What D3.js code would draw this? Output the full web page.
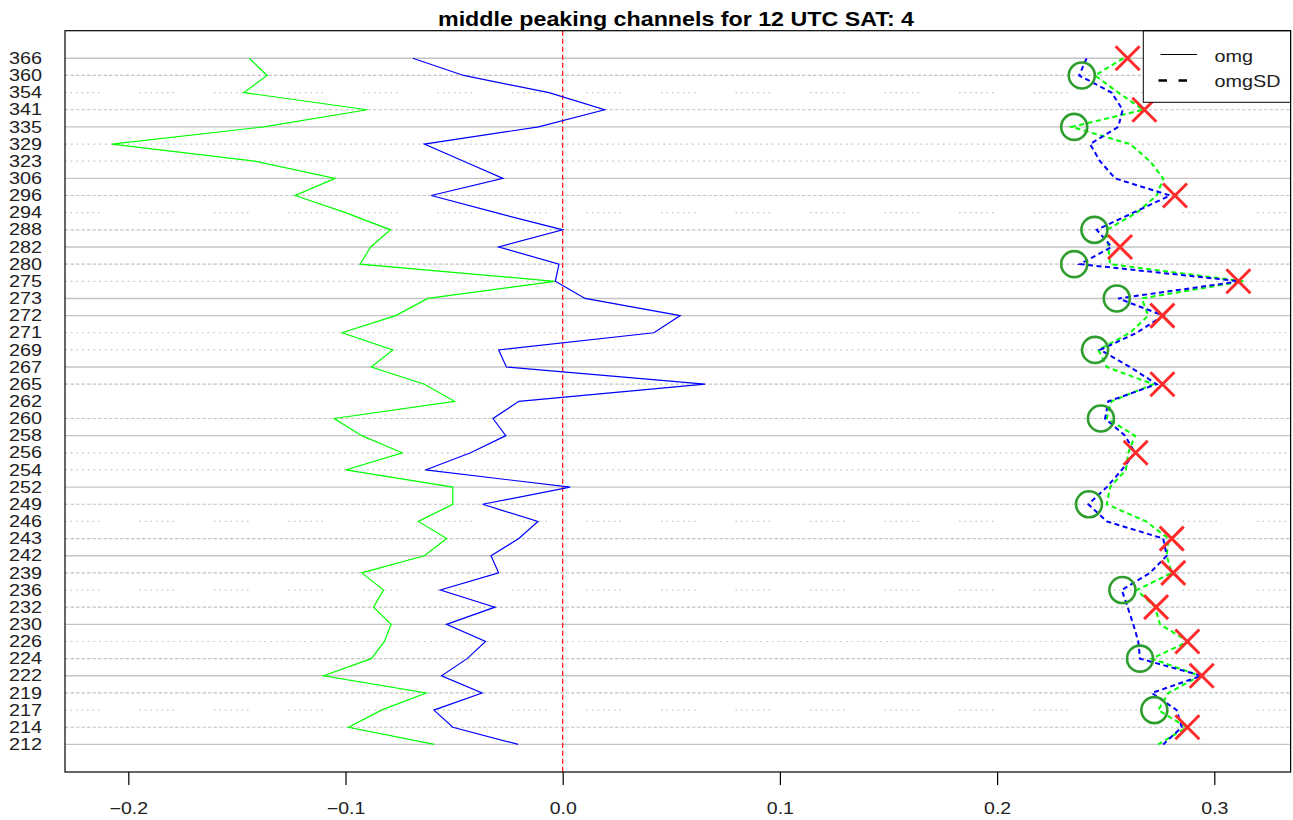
<!DOCTYPE html>
<html>
<head>
<meta charset="utf-8">
<script src="https://cdn.jsdelivr.net/npm/d3@7"></script>
<style>
  html, body { margin: 0; padding: 0; background: #fff; }
  svg { display: block; font-family: "Liberation Sans", Arial, Helvetica, sans-serif; }
</style>
</head>
<body>
<svg id="chart" width="1293" height="820"></svg>
<script>
// ---------------- data (top row first) ----------------
const channels = [366,360,354,341,335,329,323,306,296,294,288,282,280,275,273,272,271,269,267,265,262,
                  260,258,256,254,252,249,246,243,242,239,236,232,230,226,224,222,219,217,214,212];

const omgGreen = [-0.1443,-0.1361,-0.1468,-0.0900,-0.1377,-0.2076,-0.1418,-0.1048,-0.1232,-0.1000,
                  -0.0793,-0.0884,-0.0933,-0.0037,-0.0621,-0.0769,-0.1016,-0.0782,-0.0881,-0.0637,
                  -0.0498,-0.1052,-0.0925,-0.0739,-0.0999,-0.0506,-0.0506,-0.0665,-0.0534,-0.0637,
                  -0.0925,-0.0825,-0.0871,-0.0790,-0.0821,-0.0881,-0.1101,-0.0629,-0.0835,-0.0986,-0.0591];

const omgBlue = [-0.0690,-0.0456,-0.0063,0.0193,-0.0111,-0.0637,-0.0456,-0.0275,-0.0605,-0.0308,
                 0.0000,-0.0295,-0.0017,-0.0034,0.0103,0.0541,0.0420,-0.0295,-0.0259,0.0655,
                 -0.0202,-0.0321,-0.0262,-0.0424,-0.0632,0.0034,-0.0369,-0.0114,-0.0202,-0.0330,
                 -0.0295,-0.0563,-0.0312,-0.0535,-0.0355,-0.0440,-0.0558,-0.0371,-0.0593,-0.0506,-0.0205];

const sdGreen = [0.2581,0.2451,0.2558,0.2673,0.2343,0.2612,0.2704,0.2765,0.2735,0.2643,
                 0.2505,0.2512,0.2520,0.3134,0.2666,0.2696,0.2612,0.2466,0.2505,0.2719,
                 0.2527,0.2505,0.2635,0.2604,0.2593,0.2520,0.2505,0.2686,0.2789,0.2781,
                 0.2804,0.2643,0.2727,0.2750,0.2880,0.2712,0.2934,0.2789,0.2742,0.2873,0.2742];

const sdBlue = [0.2412,0.2378,0.2527,0.2578,0.2558,0.2428,0.2474,0.2543,0.2796,0.2627,
                0.2459,0.2527,0.2382,0.3118,0.2558,0.2765,0.2643,0.2474,0.2612,0.2735,
                0.2512,0.2497,0.2589,0.2635,0.2574,0.2505,0.2420,0.2505,0.2765,0.2781,
                0.2704,0.2574,0.2601,0.2627,0.2650,0.2658,0.2942,0.2712,0.2827,0.2850,0.2765];

const circleChannels = [360,335,288,280,273,269,260,249,236,224,217];
const circleValues   = [0.2390,0.2355,0.2448,0.2355,0.2551,0.2451,0.2478,0.2423,0.2577,0.2658,0.2724];

const crossChannels = [366,341,296,282,275,272,265,256,243,239,232,226,222,214];
const crossValues   = [0.2601,0.2678,0.2819,0.2566,0.3111,0.2761,0.2761,0.2638,0.2804,0.2811,0.2732,0.2876,0.2942,0.2876];

const xTicks = [-0.2, -0.1, 0.0, 0.1, 0.2, 0.3];
const titleText = "middle peaking channels for 12 UTC SAT: 4";
const legendLabels = ["omg", "omgSD"];

// grid line type for each row (top row first): S solid, D dashed, T dotted, P sparse dotted, N none
const gridLty = ["S","D","P","D","S","T","T","S","D","P","D","S","D","T","S","S","T","T","S","D","N",
                 "D","S","T","T","S","D","P","D","S","D","P","D","S","T","D","S","D","P","D","S"];

// ---------------- layout ----------------
const box = { left: 65, right: 1290.6, top: 30.7, bottom: 772 };
const svg = d3.select("#chart");
const FONT_STRETCH = 1.22;

function stretch(sel, f) {
  sel.each(function () {
    const w = this.getComputedTextLength();
    this.setAttribute("textLength", (w * f).toFixed(1));
    this.setAttribute("lengthAdjust", "spacingAndGlyphs");
  });
}

const x = d3.scaleLinear()
  .domain([(box.left - 562.7) / 2172, (box.right - 562.7) / 2172])
  .range([box.left, box.right]);

const y = d3.scalePoint()
  .domain(channels.map(String))
  .range([58.3, 744.4]);

// grid lines
const dashFor = {
  S: null,
  D: "3.5,2",
  T: "1.7,4",
  P: "1.5,4,1.5,4,1.5,4,1.5,4,1.5,4,1.5,4,1.5,40",
  N: null
};
svg.append("g").selectAll("line")
  .data(channels.map((c, i) => ({ c, lty: gridLty[i] })).filter(d => d.lty !== "N"))
  .join("line")
  .attr("x1", box.left).attr("x2", box.right)
  .attr("y1", d => y(String(d.c))).attr("y2", d => y(String(d.c)))
  .attr("stroke", "#c4c4c4")
  .attr("stroke-width", d => d.lty === "S" ? 1.4 : 1.2)
  .attr("stroke-dasharray", d => dashFor[d.lty]);

// red zero line
svg.append("line")
  .attr("x1", x(0)).attr("x2", x(0))
  .attr("y1", box.top).attr("y2", box.bottom)
  .attr("stroke", "#ff0000").attr("stroke-width", 1.2)
  .attr("stroke-dasharray", "5,3");

const line = d3.line().x(d => x(d.v)).y(d => y(String(d.c)));
const toPts = vals => channels.map((c, i) => ({ c, v: vals[i] }));

// solid lines
svg.append("path").datum(toPts(omgGreen)).attr("d", line)
  .attr("fill", "none").attr("stroke", "#00ff00").attr("stroke-width", 1.2);
svg.append("path").datum(toPts(omgBlue)).attr("d", line)
  .attr("fill", "none").attr("stroke", "#0000ff").attr("stroke-width", 1.2);

// dashed SD lines
svg.append("path").datum(toPts(sdGreen)).attr("d", line)
  .attr("fill", "none").attr("stroke", "#00ff00").attr("stroke-width", 2)
  .attr("stroke-dasharray", "5,3.5");
svg.append("path").datum(toPts(sdBlue)).attr("d", line)
  .attr("fill", "none").attr("stroke", "#0000ff").attr("stroke-width", 2)
  .attr("stroke-dasharray", "5,3.5");

// circles
svg.append("g").selectAll("circle")
  .data(circleChannels.map((c, i) => ({ c, v: circleValues[i] })))
  .join("circle")
  .attr("cx", d => x(d.v)).attr("cy", d => y(String(d.c)))
  .attr("r", 13)
  .attr("fill", "none").attr("stroke", "#2f9e2f").attr("stroke-width", 2.6);

// crosses
const cs = 12;
svg.append("g").selectAll("path")
  .data(crossChannels.map((c, i) => ({ c, v: crossValues[i] })))
  .join("path")
  .attr("d", d => {
    const cx = x(d.v), cy = y(String(d.c));
    return `M${cx - cs},${cy - cs}L${cx + cs},${cy + cs}M${cx - cs},${cy + cs}L${cx + cs},${cy - cs}`;
  })
  .attr("fill", "none").attr("stroke", "#ff2a2a").attr("stroke-width", 3);

// legend
const lg = svg.append("g");
lg.append("rect")
  .attr("x", 1143.3).attr("y", box.top)
  .attr("width", box.right - 1143.3).attr("height", 102.3 - box.top)
  .attr("fill", "#fff").attr("stroke", "#000").attr("stroke-width", 1);
lg.append("line").attr("x1", 1160.5).attr("x2", 1197).attr("y1", 54.5).attr("y2", 54.5)
  .attr("stroke", "#000").attr("stroke-width", 1);
lg.append("line").attr("x1", 1158.5).attr("x2", 1197).attr("y1", 80.5).attr("y2", 80.5)
  .attr("stroke", "#000").attr("stroke-width", 2.5).attr("stroke-dasharray", "8.5,11.5");
const lt = lg.selectAll("text").data(legendLabels).join("text")
  .attr("x", 1214.5).attr("y", (d, i) => i === 0 ? 62 : 87)
  .attr("font-size", 16.5).attr("fill", "#222")
  .text(d => d);
stretch(lt, 1.2);

// box
svg.append("rect")
  .attr("x", box.left).attr("y", box.top)
  .attr("width", box.right - box.left).attr("height", box.bottom - box.top)
  .attr("fill", "none").attr("stroke", "#000").attr("stroke-width", 1.2);

// y axis (labels only)
const yAxis = svg.append("g")
  .attr("transform", `translate(${box.left},0)`)
  .call(d3.axisLeft(y).tickSize(0).tickPadding(23));
yAxis.select(".domain").remove();
yAxis.selectAll("text").attr("font-size", 16).attr("fill", "#222")
  .attr("font-family", "Liberation Sans, Arial, sans-serif");
stretch(yAxis.selectAll("text"), 1.24);

// x axis
const xAxis = svg.append("g")
  .attr("transform", `translate(0,${box.bottom})`)
  .call(d3.axisBottom(x).tickValues(xTicks).tickSize(13).tickPadding(18).tickFormat(d3.format(".1f")));
xAxis.select(".domain").remove();
xAxis.selectAll(".tick line").attr("stroke", "#000").attr("stroke-width", 1.2);
xAxis.selectAll("text").attr("font-size", 16).attr("fill", "#222")
  .attr("font-family", "Liberation Sans, Arial, sans-serif");
stretch(xAxis.selectAll("text"), FONT_STRETCH);

// title
svg.append("text")
  .attr("x", 676).attr("y", 26)
  .attr("text-anchor", "middle")
  .attr("font-size", 20).attr("font-weight", "bold").attr("fill", "#000")
  .attr("textLength", 476).attr("lengthAdjust", "spacingAndGlyphs")
  .text(titleText);
</script>
</body>
</html>
